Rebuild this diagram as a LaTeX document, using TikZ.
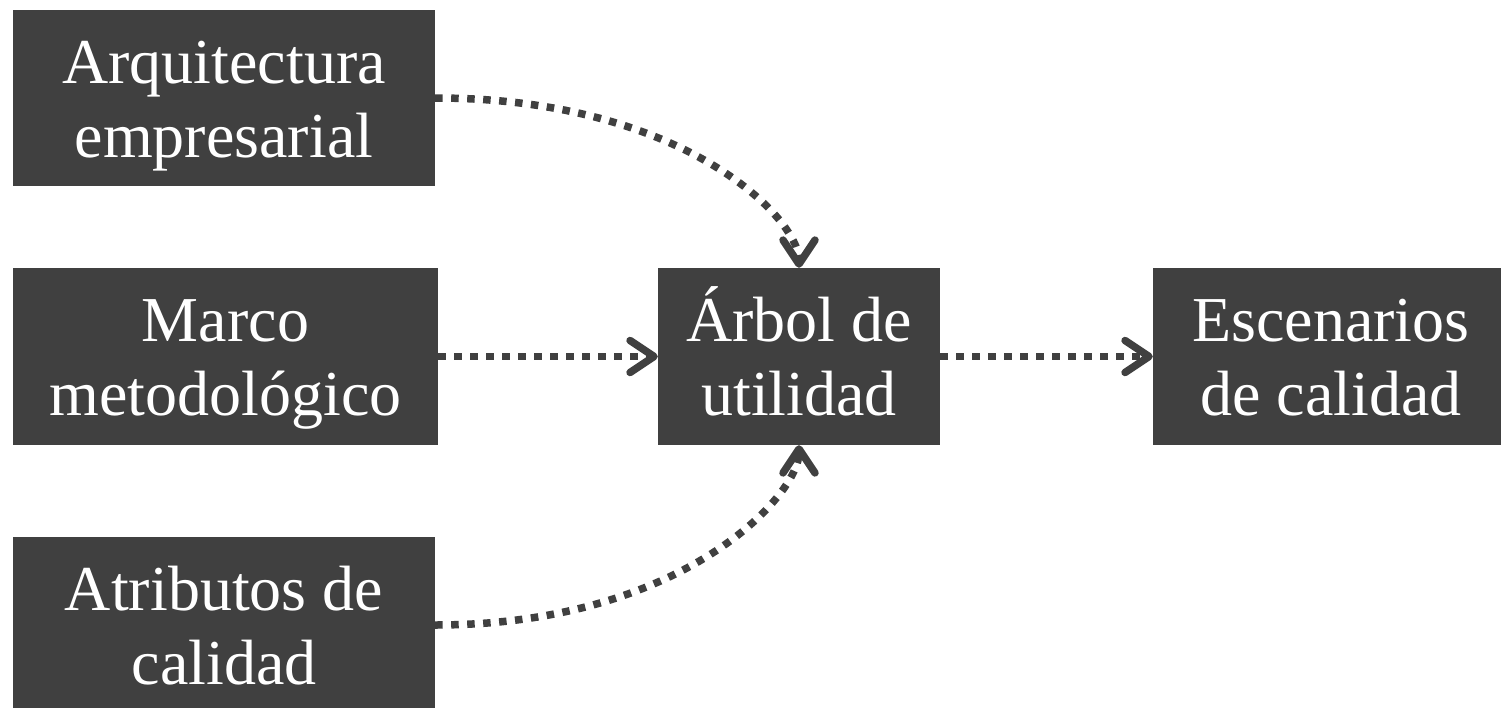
\documentclass[tikz,border=0pt]{standalone}
\usepackage{fontspec}
\setmainfont{Liberation Serif}
\usetikzlibrary{arrows.meta}
\definecolor{boxgray}{HTML}{404040}
\tikzset{
  box/.style={rectangle, fill=boxgray, text=white, inner sep=0pt, align=center,
    text height=132pt, text depth=14pt,
    font=\fontsize{64}{74}\selectfont},
  conn/.style={draw=boxgray, line width=7.5pt, dash pattern=on 7.5pt off 8.5pt,
    -{Straight Barb[length=24pt,width=32pt,round]}}
}
\begin{document}
\begin{tikzpicture}[x=1pt,y=-1pt]
\useasboundingbox (0,0) rectangle (1501,707);
\clip (0,0) rectangle (1501,707);
\node[box, minimum width=422pt, minimum height=176pt] (ae) at (224,98) {Arquitectura\\empresarial};
\node[box, minimum width=425pt, minimum height=177pt] (mm) at (225.5,356.5) {Marco\\metodológico};
\node[box, minimum width=422pt, minimum height=176pt] (at) at (224,625) {Atributos de\\calidad};
\node[box, minimum width=282pt, minimum height=177pt] (ar) at (799,356.5) {Árbol de\\utilidad};
\node[box, minimum width=356pt, minimum height=177pt] (es) at (1331,356.5) {Escenarios\\de calidad};
\draw[conn] (ae.east) .. controls +(247,0) and +(0,-50) .. (ar.north);
\draw[conn] (at.east) .. controls +(247,0) and +(0,50) .. (ar.south);
\draw[conn] (mm.east) -- (ar.west);
\draw[conn] (ar.east) -- (es.west);
\end{tikzpicture}
\end{document}
